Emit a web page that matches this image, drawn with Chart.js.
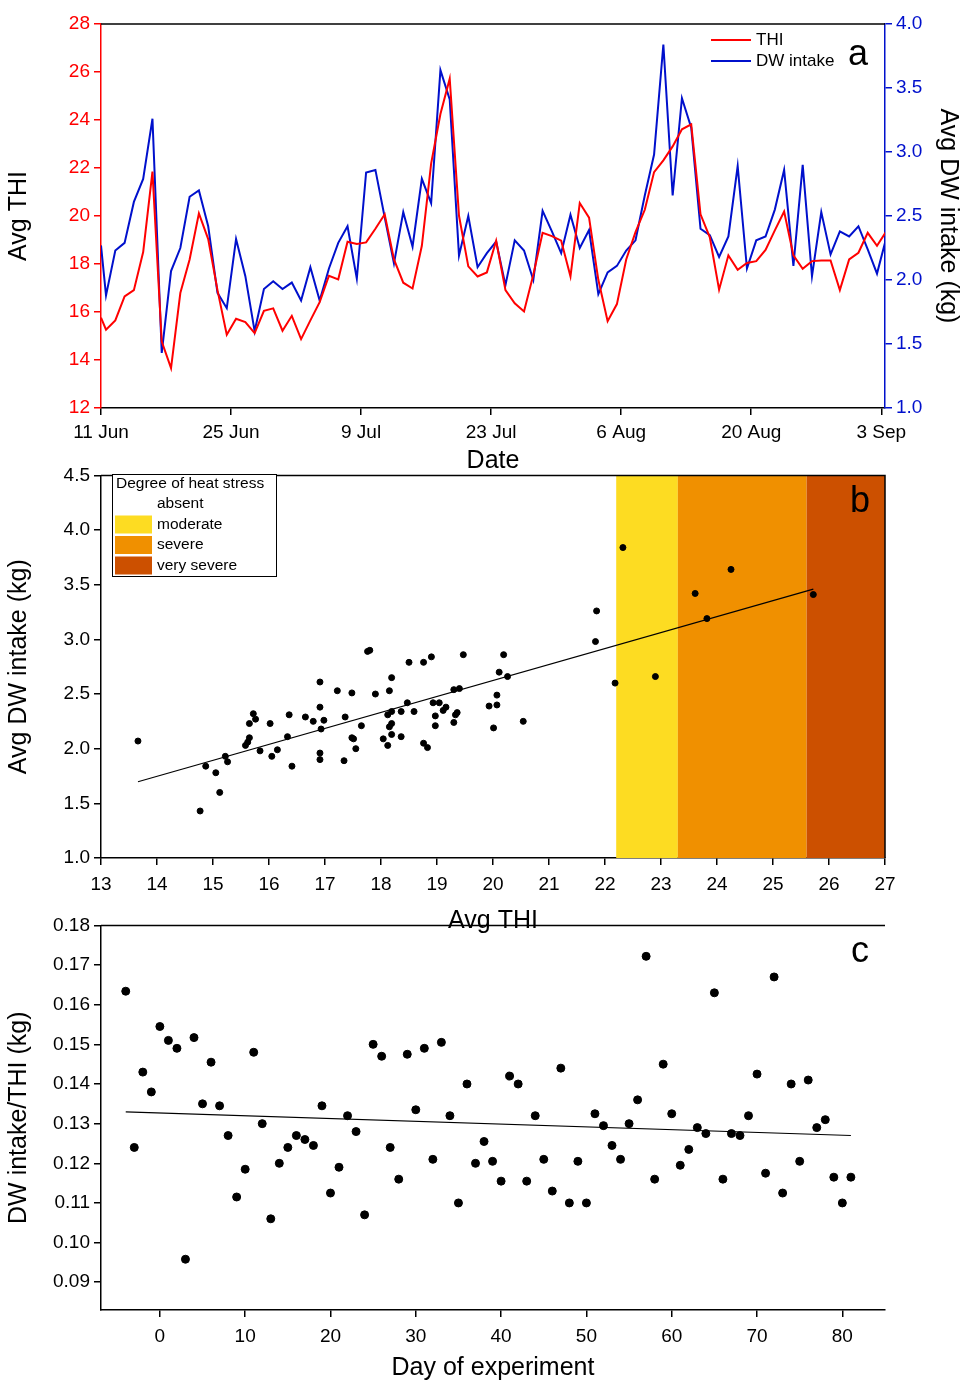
<!DOCTYPE html>
<html><head><meta charset="utf-8">
<script src="https://cdn.jsdelivr.net/npm/chart.js@4.4.0/dist/chart.umd.min.js"></script>
<style>
body{margin:0;background:#fff;width:969px;height:1387px;position:relative;overflow:hidden}
canvas{position:absolute;left:0}
</style></head><body>
<canvas id="ca" style="top:0px" width="969" height="480"></canvas>
<canvas id="cb" style="top:460px" width="969" height="480"></canvas>
<canvas id="cc" style="top:910px" width="969" height="477"></canvas>
<script>
// panel a data (daily averages, day 0 = 11 Jun)
let thi = [15.76,15.26,15.65,16.65,16.91,18.50,21.85,14.77,13.66,16.79,18.19,20.11,19.04,16.91,15.05,15.72,15.58,15.12,16.05,16.15,15.22,15.84,14.87,15.65,16.41,17.51,17.36,18.93,18.83,18.90,19.47,20.07,18.19,17.22,16.98,18.76,22.18,24.25,25.72,20.01,17.90,17.48,17.65,18.97,
  16.91,16.36,16.02,17.55,19.30,19.16,18.97,17.48,20.54,19.93,17.34,15.62,16.33,18.19,19.33,20.26,21.83,22.32,22.90,23.61,23.82,20.07,19.11,16.93,18.36,17.76,18.04,18.12,18.59,19.40,20.19,18.36,17.80,18.12,18.15,18.15,16.91,18.19,18.47,19.30,18.76,19.36];
let dwIntake = [2.27,1.88,2.23,2.29,2.61,2.79,3.26,1.43,2.07,2.25,2.65,2.70,2.42,1.90,1.78,2.32,2.03,1.60,1.93,1.99,1.93,1.98,1.84,2.10,1.84,2.09,2.29,2.42,2.01,2.84,2.86,2.49,2.13,2.53,2.26,2.79,2.60,3.64,3.41,2.19,2.50,2.10,2.21,
  2.30,1.96,2.31,2.23,2.00,2.54,2.38,2.21,2.51,2.25,2.39,1.89,2.06,2.11,2.23,2.31,2.66,2.98,3.84,2.66,3.42,3.19,2.40,2.35,2.18,2.34,2.89,2.09,2.31,2.34,2.55,2.86,2.11,2.90,2.03,2.53,2.20,2.38,2.34,2.42,2.24,2.05,2.33];
let dateTicks = ['11 Jun','25 Jun','9 Jul','23 Jul','6 Aug','20 Aug','3 Sep'];
let dateTickDays = [0,14,28,42,56,70,84];

// panel b heat stress zones (THI ranges)
let zoneNames = ['absent','moderate','severe','very severe'];
let zoneColors = ['#ffffff','#fddc22','#f09000','#cc5000'];
let zoneFrom = [null,22.2,23.3,25.6];
let zoneTo = [null,23.3,25.6,27];

// panel c data
let expDay = [];
for (let d = -4; d <= 81; d++) expDay.push(d);
let ratio = [0.1634,0.124,0.143,0.138,0.1545,0.151,0.149,0.0958,0.1517,0.135,0.1455,0.1345,0.127,0.1115,0.1185,0.148,0.130,0.106,0.120,0.124,0.127,0.126,0.1245,0.1345,0.1125,0.119,0.132,0.128,0.107,0.150,0.147,0.124,0.116,0.1475,0.1335,0.149,0.121,0.1505,0.132,0.110,0.140,0.120,0.1255,0.1205,0.1155,0.142,0.140,0.1155,0.132,0.121,0.113,0.144,0.110,0.1205,0.110,0.1325,0.1295,0.1245,0.121,0.130,0.136,0.1722,0.116,0.145,0.1325,0.1195,0.1235,0.129,0.1275,0.163,0.116,0.1275,0.127,0.132,0.1425,0.1175,0.167,0.1125,0.140,0.1205,0.141,0.129,0.131,0.1165,0.110,0.1165];
let dayTicks = [0,10,20,30,40,50,60,70,80];

const FONT = 'Liberation Sans';
Chart.defaults.font.family = FONT;
Chart.defaults.animation = false;
Chart.defaults.color = '#000';

function dayOf(i) { return i === 0 ? 0 : i - 0.46; }

function fit(size) {
  return function (s) { if (s.isHorizontal()) s.height = size; else s.width = size; };
}
function fixTicks(list) {
  return function (s) { s.ticks = list.map(v => ({ value: v })); };
}
function linReg(xs, ys) {
  let n = xs.length, sx = 0, sy = 0, sxx = 0, sxy = 0;
  for (let i = 0; i < n; i++) { sx += xs[i]; sy += ys[i]; sxx += xs[i] * xs[i]; sxy += xs[i] * ys[i]; }
  let b = (n * sxy - sx * sy) / (n * sxx - sx * sx);
  return { b: b, a: (sy - b * sx) / n };
}
let frame = {
  id: 'frame',
  afterDraw(chart, args, o) {
    let c = chart.ctx, a = chart.chartArea;
    c.save();
    c.strokeStyle = '#000'; c.lineWidth = 1.5;
    c.beginPath();
    c.moveTo(a.left, a.top); c.lineTo(a.right, a.top);
    if (o.full) { c.lineTo(a.right, a.bottom); }
    c.stroke();
    c.fillStyle = '#000'; c.font = '36px ' + FONT;
    c.textAlign = 'center'; c.textBaseline = 'middle';
    c.fillText(o.letter, o.lx, o.ly);
    c.restore();
  }
};

function axisOpts(color, min, max, step, size, title, extra) {
  return Object.assign({
    type: 'linear', min: min, max: max, afterFit: fit(size),
    border: { color: color, width: 1.5 },
    grid: { drawOnChartArea: false, color: color, tickLength: 7, lineWidth: 1.5 },
    ticks: { color: color, stepSize: step, font: { size: 19 }, padding: 4, autoSkip: false, maxRotation: 0 },
    title: { display: true, text: title, color: '#000', font: { size: 25 }, padding: { bottom: 14 } }
  }, extra || {});
}

// ---- panel a
new Chart(document.getElementById('ca'), {
  type: 'line',
  data: {
    datasets: [
      { label: 'THI', data: thi.map((v, i) => ({ x: dayOf(i), y: v })), borderColor: '#ff0000', borderWidth: 2, pointRadius: 0, yAxisID: 'y' },
      { label: 'DW intake', data: dwIntake.map((v, i) => ({ x: dayOf(i), y: v })), borderColor: '#0010cc', borderWidth: 2, pointRadius: 0, yAxisID: 'y2' }
    ]
  },
  options: {
    responsive: false,
    layout: { padding: { top: 24, bottom: 0 } },
    plugins: {
      legend: { display: false }, tooltip: { enabled: false },
      frame: { letter: 'a', lx: 858, ly: 55, full: false }
    },
    scales: {
      x: axisOpts('#000', 0, 84.4, 14, 72, 'Date', {
        afterBuildTicks: fixTicks(dateTickDays),
        ticks: { color: '#000', font: { size: 19 }, padding: 6, autoSkip: false, maxRotation: 0, callback: v => dateTicks[dateTickDays.indexOf(v)] },
        title: { display: true, text: 'Date', color: '#000', font: { size: 25 }, padding: { top: 4 } }
      }),
      y: axisOpts('#ff0000', 12, 28, 2, 101, 'Avg THI', { position: 'left' }),
      y2: axisOpts('#0010cc', 1.0, 4.0, 0.5, 84, 'Avg DW intake (kg)', {
        position: 'right',
        ticks: { color: '#0010cc', stepSize: 0.5, font: { size: 19 }, padding: 4, callback: v => v.toFixed(1) },
        title: { display: true, text: 'Avg DW intake (kg)', color: '#000', font: { size: 25 }, padding: { top: 6 } }
      })
    }
  },
  plugins: [frame, {
    id: 'legA',
    afterDraw(chart) {
      let c = chart.ctx;
      c.save(); c.lineWidth = 2; c.font = '17px ' + FONT; c.textBaseline = 'middle';
      [['THI', '#ff0000', 40], ['DW intake', '#0010cc', 61]].forEach(e => {
        c.strokeStyle = e[1]; c.beginPath(); c.moveTo(711, e[2]); c.lineTo(751, e[2]); c.stroke();
        c.fillStyle = '#000'; c.fillText(e[0], 756, e[2]);
      });
      c.restore();
    }
  }]
});

// ---- panel b
let reg = linReg(thi, dwIntake);
let thiMin = Math.min(...thi), thiMax = Math.max(...thi);
new Chart(document.getElementById('cb'), {
  type: 'scatter',
  data: {
    datasets: [
      { data: thi.map((v, i) => ({ x: v, y: dwIntake[i] })), backgroundColor: '#000', borderColor: '#000', pointRadius: 3 },
      { type: 'line', data: [{ x: thiMin, y: reg.a + reg.b * thiMin }, { x: thiMax, y: reg.a + reg.b * thiMax }], borderColor: '#000', borderWidth: 1.2, pointRadius: 0 }
    ]
  },
  options: {
    responsive: false,
    layout: { padding: { top: 13, right: 84 } },
    plugins: { legend: { display: false }, tooltip: { enabled: false }, frame: { letter: 'b', lx: 860, ly: 42, full: true } },
    scales: {
      x: axisOpts('#000', 13, 27, 1, 82, 'Avg THI', {
        ticks: { color: '#000', stepSize: 1, font: { size: 19 }, padding: 8, autoSkip: false, maxRotation: 0 },
        title: { display: true, text: 'Avg THI', color: '#000', font: { size: 25 }, padding: { top: 10 } }
      }),
      y: axisOpts('#000', 1.0, 4.5, 0.5, 101, 'Avg DW intake (kg)', {
        ticks: { color: '#000', stepSize: 0.5, font: { size: 19 }, padding: 4, callback: v => v.toFixed(1) }
      })
    }
  },
  plugins: [frame, {
    id: 'zones',
    beforeDatasetsDraw(chart) {
      let c = chart.ctx, x = chart.scales.x, a = chart.chartArea;
      c.save();
      for (let i = 1; i < zoneNames.length; i++) {
        c.fillStyle = zoneColors[i];
        c.fillRect(x.getPixelForValue(zoneFrom[i]), a.top, x.getPixelForValue(zoneTo[i]) - x.getPixelForValue(zoneFrom[i]), a.bottom - a.top);
      }
      c.restore();
    },
    afterDraw(chart) {
      let c = chart.ctx;
      c.save();
      c.fillStyle = '#fff'; c.fillRect(112, 14, 164, 102);
      c.strokeStyle = '#000'; c.lineWidth = 1; c.strokeRect(112.5, 14.5, 164, 102);
      c.fillStyle = '#000'; c.font = '15.5px ' + FONT; c.textBaseline = 'middle';
      c.fillText('Degree of heat stress', 116, 24);
      zoneNames.forEach((n, i) => {
        let y = 44 + i * 20.5;
        c.fillStyle = zoneColors[i]; c.fillRect(115, y - 9, 37, 18);
        c.fillStyle = '#000'; c.fillText(n, 157, y);
      });
      c.restore();
    }
  }]
});

// ---- panel c
let regC = linReg(expDay, ratio);
new Chart(document.getElementById('cc'), {
  type: 'scatter',
  data: {
    datasets: [
      { data: expDay.map((d, i) => ({ x: d, y: ratio[i] })), backgroundColor: '#000', borderColor: '#000', pointRadius: 4 },
      { type: 'line', data: [{ x: expDay[0], y: regC.a + regC.b * expDay[0] }, { x: expDay[expDay.length - 1], y: regC.a + regC.b * expDay[expDay.length - 1] }], borderColor: '#000', borderWidth: 1.2, pointRadius: 0 }
    ]
  },
  options: {
    responsive: false,
    layout: { padding: { top: 12, right: 84 } },
    plugins: { legend: { display: false }, tooltip: { enabled: false }, frame: { letter: 'c', lx: 860, ly: 42, full: false } },
    scales: {
      x: axisOpts('#000', -6.9, 85, 10, 77, 'Day of experiment', {
        afterBuildTicks: fixTicks(dayTicks),
        ticks: { color: '#000', font: { size: 19 }, padding: 8, autoSkip: false, maxRotation: 0 },
        title: { display: true, text: 'Day of experiment', color: '#000', font: { size: 25 }, padding: { top: 6 } }
      }),
      y: axisOpts('#000', 0.083, 0.18, 0.01, 101, 'DW intake/THI (kg)', {
        ticks: { color: '#000', stepSize: 0.01, font: { size: 19 }, padding: 4, callback: v => v.toFixed(2) },
        afterBuildTicks: s => { s.ticks = s.ticks.filter(t => t.value >= 0.0899); }
      })
    }
  },
  plugins: [frame]
});
</script>
</body></html>
